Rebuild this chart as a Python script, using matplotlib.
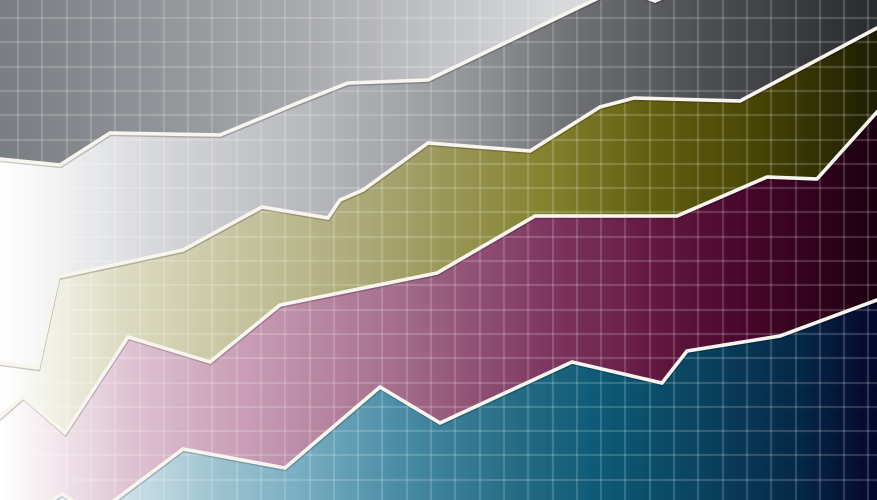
import numpy as np
import matplotlib
matplotlib.use("Agg")
import matplotlib.pyplot as plt
from matplotlib.colors import LinearSegmentedColormap
from matplotlib.patches import Polygon
import matplotlib.patheffects as pe

# ---- data (x position, value) for each boundary line, top to bottom ----
line1_x = [0, 60, 110, 220, 300, 348, 428, 590, 620, 655, 690, 877]
line1_y = [341, 335, 367, 365, 398, 417, 420, 498, 512, 499, 514, 580]

line2_x = [0, 38, 58, 183, 262, 328, 340, 363, 428, 530, 600, 634, 740, 877]
line2_y = [137, 132, 223, 250, 293, 282, 300, 310, 357, 349, 393, 402, 399, 472]

line3_x = [0, 23, 65, 128, 210, 280, 437, 535, 677, 767, 817, 877]
line3_y = [83, 103, 67, 163, 138, 195, 227, 284, 284, 323, 321, 388]

line4_x = [0, 62, 95, 183, 285, 380, 440, 572, 662, 687, 780, 877]
line4_y = [-30, 6, -15, 51, 32, 113, 77, 138, 117, 149, 164, 200]

XMAX, YMAX = 877, 500
TOP, BOTTOM = 700, -100

# ---- band colour ramps (x position, colour) ----
band_colors = [
    [(0, '#7a7d82'), (300, '#a8aaae'), (560, '#d8d9db'), (877, '#d8d9db')],
    [(0, '#ffffff'), (40, '#f6f6f7'), (150, '#d8d9dc'), (300, '#b8babe'),
     (450, '#999b9f'), (577, '#6e7074'), (700, '#4e5054'), (877, '#2a2c30')],
    [(0, '#ffffff'), (40, '#f4f4ee'), (120, '#dddcc2'), (250, '#c4c29c'),
     (400, '#a3a16a'), (550, '#84822e'), (650, '#626010'), (750, '#4a4806'),
     (877, '#1e1e04')],
    [(0, '#ffffff'), (40, '#f6eef2'), (130, '#dfc2d2'), (250, '#c79cb4'),
     (400, '#a46c8a'), (550, '#7e3660'), (650, '#641a42'), (750, '#48062a'),
     (877, '#1c0010')],
    [(0, '#ffffff'), (100, '#dbe9ee'), (200, '#a6c8d5'), (300, '#78aec1'),
     (400, '#4a8ca5'), (500, '#2a7088'), (600, '#0e5a76'), (700, '#0a4460'),
     (800, '#062848'), (877, '#04082c')],
]

fig = plt.figure(figsize=(8.77, 5.0), dpi=100)
ax = fig.add_axes([0, 0, 1, 1])
ax.set_xlim(0, XMAX)
ax.set_ylim(0, YMAX)

lines = [(line1_x, line1_y), (line2_x, line2_y), (line3_x, line3_y), (line4_x, line4_y)]
top_edge = ([0, XMAX], [TOP, TOP])
bot_edge = ([0, XMAX], [BOTTOM, BOTTOM])
bounds = [top_edge] + lines + [bot_edge]

xs = np.linspace(0, XMAX, XMAX)
for i, ramp in enumerate(band_colors):
    ux, uy = bounds[i]
    lx, ly = bounds[i + 1]
    verts = np.vstack([np.column_stack([ux, uy]),
                       np.column_stack([lx, ly])[::-1]])
    poly = Polygon(verts, closed=True, facecolor='none', edgecolor='none')
    ax.add_patch(poly)
    cmap = LinearSegmentedColormap.from_list(
        f'b{i}', [(p / XMAX, c) for p, c in ramp])
    img = cmap(xs / XMAX)[np.newaxis, :, :]
    im = ax.imshow(img, extent=[0, XMAX, BOTTOM, TOP], aspect='auto',
                   interpolation='bilinear', zorder=1)
    im.set_clip_path(poly)

# grid
ax.set_xticks(np.arange(18, XMAX, 24.3))
ax.set_yticks(np.arange(482, -1, -24.3))
ax.set_axisbelow(False)
ax.grid(True, color='white', alpha=0.17, lw=1.6)
ax.tick_params(length=0, labelbottom=False, labelleft=False)
for s in ax.spines.values():
    s.set_visible(False)

# boundary lines
for lx_, ly_ in lines:
    ax.plot(lx_, ly_, color='#f8f5ee', lw=2.6, zorder=4, solid_joinstyle='miter',
            path_effects=[pe.SimpleLineShadow(offset=(0.4, -1.0), shadow_color='black', alpha=0.2),
                          pe.Normal()])

ax.set_xlim(0, XMAX)
ax.set_ylim(0, YMAX)
fig.savefig('out.png', dpi=100)
